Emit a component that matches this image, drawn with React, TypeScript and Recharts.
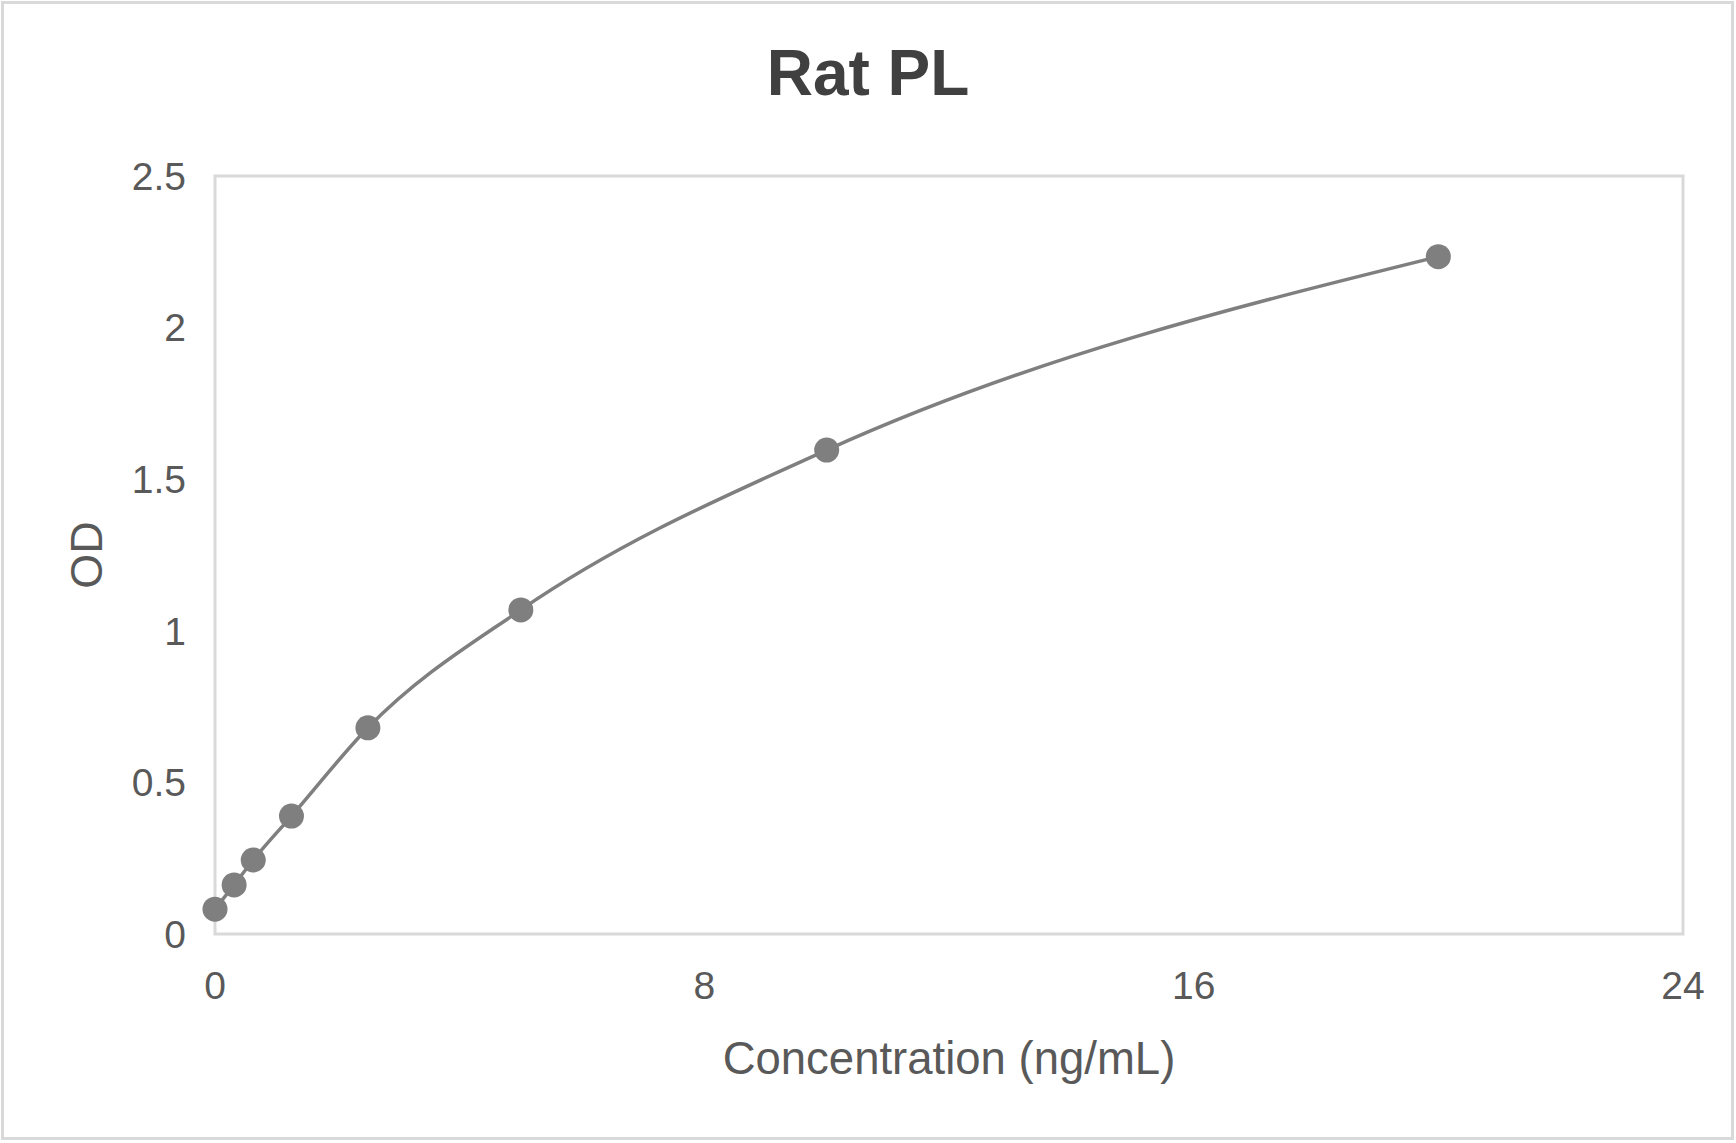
import React from 'react';
import {
  LineChart,
  Line,
  XAxis,
  YAxis,
  ReferenceArea,
  Label,
} from 'recharts';

// standard curve readings
const concentrations = [0, 0.3125, 0.625, 1.25, 2.5, 5, 10, 20];
const odValues = [0.082, 0.162, 0.244, 0.389, 0.68, 1.069, 1.596, 2.234];

const xTicks = [0, 8, 16, 24];
const yTicks = [0, 0.5, 1, 1.5, 2, 2.5];

const data = concentrations.map((c, i) => ({ conc: c, od: odValues[i] }));

const FONT = '"Liberation Sans", Arial, sans-serif';
const TEXT = '#595959';
const GREY = '#7f7f7f';
const BORDER = '#d9d9d9';

const XTitle = ({ viewBox }: any) => (
  <text
    x={viewBox.x + viewBox.width / 2}
    y={viewBox.y + 140}
    textAnchor="middle"
    fontFamily={FONT}
    fontSize={45.5}
    fill={TEXT}
  >
    Concentration (ng/mL)
  </text>
);

const YTitle = ({ viewBox }: any) => {
  const x = viewBox.x + 102;
  const y = viewBox.y + viewBox.height / 2;
  return (
    <text
      x={x}
      y={y}
      transform={`rotate(-90, ${x}, ${y})`}
      textAnchor="middle"
      fontFamily={FONT}
      fontSize={45}
      fill={TEXT}
    >
      OD
    </text>
  );
};

export default function App() {
  return (
    <div
      style={{
        position: 'relative',
        width: 1736,
        height: 1143,
        background: '#fff',
        fontFamily: FONT,
      }}
    >
      <style>{'body { margin: 0; }'}</style>
      <div
        style={{
          position: 'absolute',
          left: 1,
          top: 1,
          width: 1733,
          height: 1139,
          boxSizing: 'border-box',
          border: `3px solid ${BORDER}`,
        }}
      />
      <div
        style={{
          position: 'absolute',
          left: 0,
          top: 37,
          width: 1736,
          textAlign: 'center',
          fontSize: 64,
          fontWeight: 'bold',
          color: '#404040',
          lineHeight: '72px',
        }}
      >
        Rat PL
      </div>
      <div style={{ position: 'absolute', left: 0, top: 0 }}>
        <LineChart
          width={1736}
          height={1143}
          data={data}
          margin={{ top: 176, right: 53, bottom: 149, left: 0 }}
        >
          <ReferenceArea
            x1={0}
            x2={24}
            y1={0}
            y2={2.5}
            fill="none"
            stroke={BORDER}
            strokeWidth={3}
            fillOpacity={0}
          />
          <XAxis
            type="number"
            dataKey="conc"
            domain={[0, 24]}
            ticks={xTicks}
            height={60}
            axisLine={false}
            tickLine={false}
            tickSize={0}
            tickMargin={37}
            tick={{ fill: TEXT, fontSize: 39, fontFamily: FONT }}
          >
            <Label content={<XTitle />} />
          </XAxis>
          <YAxis
            type="number"
            domain={[0, 2.5]}
            ticks={yTicks}
            width={215}
            axisLine={false}
            tickLine={false}
            tickSize={0}
            tickMargin={29}
            tick={{ fill: TEXT, fontSize: 39, fontFamily: FONT }}
          >
            <Label content={<YTitle />} />
          </YAxis>
          <Line
            type="monotone"
            dataKey="od"
            stroke={GREY}
            strokeWidth={3.5}
            dot={{ r: 12.5, fill: GREY, stroke: GREY, strokeWidth: 0 }}
            activeDot={false}
            isAnimationActive={false}
          />
        </LineChart>
      </div>
    </div>
  );
}
